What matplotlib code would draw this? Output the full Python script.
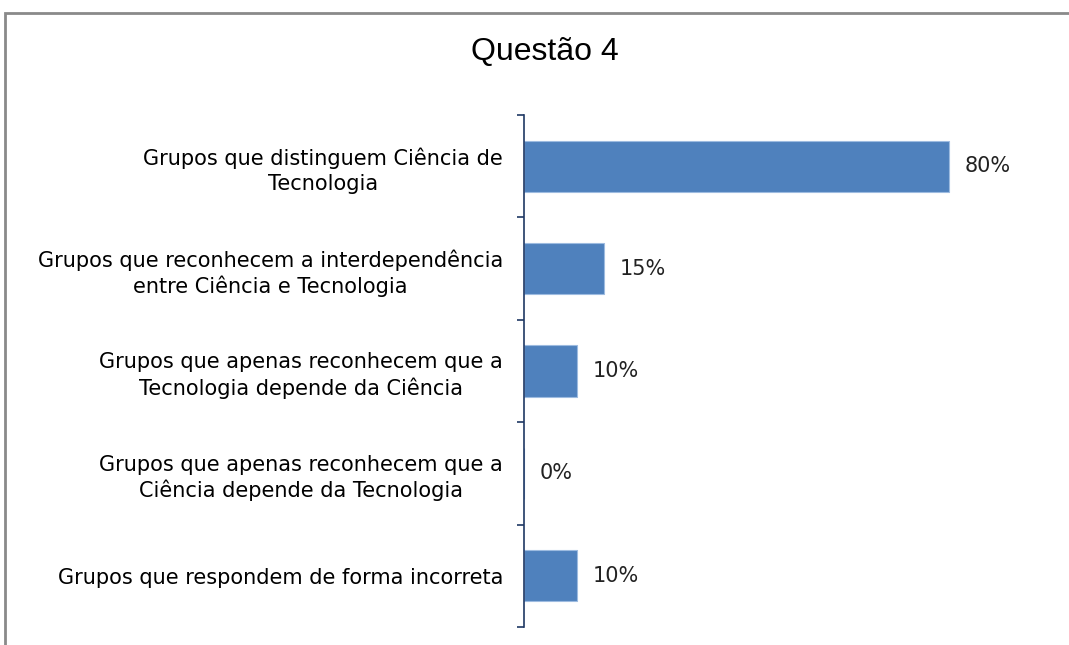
import matplotlib.pyplot as plt
from matplotlib.patches import Rectangle

# data
categories = [
    "Grupos que distinguem Ciência de\nTecnologia",
    "Grupos que reconhecem a interdependência\nentre Ciência e Tecnologia",
    "Grupos que apenas reconhecem que a\nTecnologia depende da Ciência",
    "Grupos que apenas reconhecem que a\nCiência depende da Tecnologia",
    "Grupos que respondem de forma incorreta",
]
values = [80, 15, 10, 0, 10]
value_labels = ["80%", "15%", "10%", "0%", "10%"]

W, H = 1069, 645
fig = plt.figure(figsize=(W / 100, H / 100), dpi=100)

# outer chart border (partly cut off on right/bottom, like the screenshot)
fig.patches.append(Rectangle((5 / W, -0.05), 1.2, 1 - 13 / H + 0.05,
                             transform=fig.transFigure, fill=False,
                             edgecolor="#8a8a8a", linewidth=2))

ax = fig.add_axes([524 / W, 1 - 627 / H, (1055 - 524) / W, (627 - 115) / H])

ypos = list(range(len(categories)))
ax.barh(ypos, values, height=0.5, color="#4F81BD", edgecolor="#9DBBE0", linewidth=0.8)
ax.set_ylim(len(categories) - 0.5, -0.5)
ax.set_xlim(0, 100)

for y, v, lab in zip(ypos, values, value_labels):
    ax.text(v + 3, y, lab, va="center", ha="left", fontsize=15,
            color="#222222", family="DejaVu Sans")

# category axis with boundary ticks
ax.set_yticks([i - 0.5 for i in range(len(categories) + 1)])
ax.set_yticklabels([])
ax.set_yticks(ypos, minor=True)
ax.set_yticklabels(categories, minor=True, fontsize=15, multialignment="center",
                   family="DejaVu Sans", linespacing=1.3)
ax.tick_params(axis="y", which="major", length=5, width=1.2, color="#1F3864", direction="out")
ax.tick_params(axis="y", which="minor", length=0, pad=15)
ax.set_xticks([])
for s in ["top", "right", "bottom"]:
    ax.spines[s].set_visible(False)
ax.spines["left"].set_color("#1F3864")
ax.spines["left"].set_linewidth(1.2)

fig.text(545 / W, 1 - 52 / H, "Questão 4", ha="center", va="center",
         fontsize=23, family="Liberation Sans")

fig.savefig("out.png", dpi=100)
